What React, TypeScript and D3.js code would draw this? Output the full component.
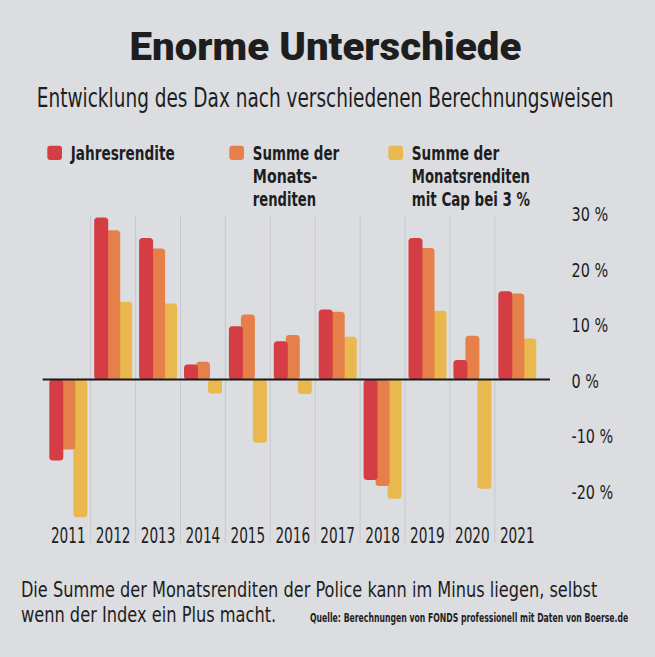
import React, { useMemo } from "react";
import * as d3 from "d3";

const years = ["2011", "2012", "2013", "2014", "2015", "2016", "2017", "2018", "2019", "2020", "2021"];
const jahresrendite = [-14.6, 29.2, 25.5, 2.7, 9.6, 6.9, 12.6, -18.1, 25.5, 3.5, 15.9];
const summeMonatsrenditen = [-12.6, 26.9, 23.6, 3.2, 11.7, 8.0, 12.2, -19.2, 23.7, 7.9, 15.5];
const summeMitCap = [-24.8, 14.0, 13.7, -2.5, -11.4, -2.6, 7.7, -21.5, 12.4, -19.7, 7.4];
const yTicks = [30, 20, 10, 0, -10, -20];
const yTickLabels = ["30 %", "20 %", "10 %", "0 %", "-10 %", "-20 %"];

const seriesNames = ["Jahresrendite", "Summe der Monatsrenditen", "Summe der Monatsrenditen mit Cap bei 3 %"];
const legendLines = [["Jahresrendite"], ["Summe der", "Monats-", "renditen"], ["Summe der", "Monatsrenditen", "mit Cap bei 3 %"]];
const colors = ["#d43d43", "#e6804a", "#e9b84f"];

const title = "Enorme Unterschiede";
const subtitle = "Entwicklung des Dax nach verschiedenen Berechnungsweisen";
const footer1 = "Die Summe der Monatsrenditen der Police kann im Minus liegen, selbst";
const footer2 = "wenn der Index ein Plus macht.";
const source = "Quelle: Berechnungen von FONDS professionell mit Daten von Boerse.de";

const W = 655;
const H = 657;
const NARROW = "'DejaVu Sans Condensed', 'DejaVu Sans', sans-serif";
const BOLDFACE = "Roboto, 'DejaVu Sans', sans-serif";
const TEXT = "#1e1e1f";

let ctx: CanvasRenderingContext2D | null = null;
function measure(text: string, weight: number, size: number, family: string) {
  if (!ctx) ctx = document.createElement("canvas").getContext("2d");
  if (!ctx) return text.length * size * 0.5;
  ctx.font = `${weight} ${size}px ${family}`;
  return ctx.measureText(text).width;
}

type FitProps = {
  text: string; x: number; y: number; width: number; size: number;
  weight?: number; family?: string; anchor?: "start" | "middle";
};

// Text whose font size is chosen so its natural width matches `width`,
// then stretched vertically to the wanted glyph height (condensed look).
function FitText({ text, x, y, width, size, weight = 400, family = NARROW, anchor = "start" }: FitProps) {
  const natural = measure(text, weight, size, family);
  const fs = size * width / natural;
  const sy = size / fs;
  return (
    <text transform={`translate(${x},${y}) scale(1,${sy})`} fontFamily={family} fontWeight={weight}
      fontSize={fs} fill={TEXT} textAnchor={anchor}>{text}</text>
  );
}

export default function App() {
  const x = d3.scaleBand<string>().domain(years).range([45.8, 539.7]).padding(0);
  const y = d3.scaleLinear().domain([-20, 30]).range([490.5, 213]);
  const series = [jahresrendite, summeMonatsrenditen, summeMitCap];
  const barW = 14;
  const barStep = 12;
  const barOff = 3.5;

  const legendX = [47.3, 229.3, 388.3];
  const legendWidths = [[104], [86.5, 64.6, 63.3], [87.6, 118.3, 118.3]];

  // one common horizontal factor for the tick labels, taken from "30 %"
  const tickRatio = useMemo(() => 36.6 / measure("30 %", 400, 19, NARROW), []);
  const yearRatio = useMemo(() => 34.7 / measure("2011", 400, 21, NARROW), []);

  return (
    <svg width={W} height={H} style={{ position: "absolute", left: 0, top: 0, display: "block" }}>
      <rect x={0} y={0} width={W} height={H} fill="#dcdde0" />
      <FitText text={title} x={129.5} y={60} width={392} size={39.5} weight={900} family={BOLDFACE} />
      <FitText text={subtitle} x={36.8} y={107.3} width={577} size={26.5} />

      {/* legend */}
      {seriesNames.map((name, i) => (
        <g key={name}>
          <rect x={legendX[i]} y={145.7} width={14.7} height={14.3} rx={3} fill={colors[i]} />
          {legendLines[i].map((line, j) => (
            <FitText key={j} text={line} x={legendX[i] + 23.5} y={160 + j * 23} width={legendWidths[i][j]}
              size={20} weight={700} />
          ))}
        </g>
      ))}

      {/* gridlines */}
      {years.slice(1).map((yr) => (
        <line key={yr} x1={x(yr)!} x2={x(yr)!} y1={215} y2={543} stroke="#c8c9cc" strokeWidth={1} />
      ))}

      {/* bars */}
      {years.map((yr, k) => (
        <g key={yr}>
          {[2, 1, 0].map((s) => {
            const v = series[s][k];
            const y0 = y(0);
            const y1 = y(v);
            return (
              <rect key={s} x={x(yr)! + barOff + s * barStep} width={barW}
                y={Math.min(y0, y1)} height={Math.abs(y1 - y0)} rx={3.5} fill={colors[s]} />
            );
          })}
        </g>
      ))}

      <line x1={42.7} x2={550} y1={y(0)} y2={y(0)} stroke="#1a1a1a" strokeWidth={2} />

      {/* y tick labels */}
      {yTicks.map((t, i) => (
        <FitText key={t} text={yTickLabels[i]} x={571.5} y={y(t) + 8.3}
          width={measure(yTickLabels[i], 400, 19, NARROW) * tickRatio} size={19} />
      ))}

      {/* year labels */}
      {years.map((yr) => (
        <FitText key={yr} text={yr} x={x(yr)! + x.bandwidth() / 2} y={543} anchor="middle"
          width={measure(yr, 400, 21, NARROW) * yearRatio} size={21} />
      ))}

      <FitText text={footer1} x={20.9} y={597.3} width={577} size={21.5} />
      <FitText text={footer2} x={20.9} y={621.7} width={255.6} size={21.5} />
      <FitText text={source} x={310} y={622} width={318.6} size={12.5} weight={700} />
    </svg>
  );
}
